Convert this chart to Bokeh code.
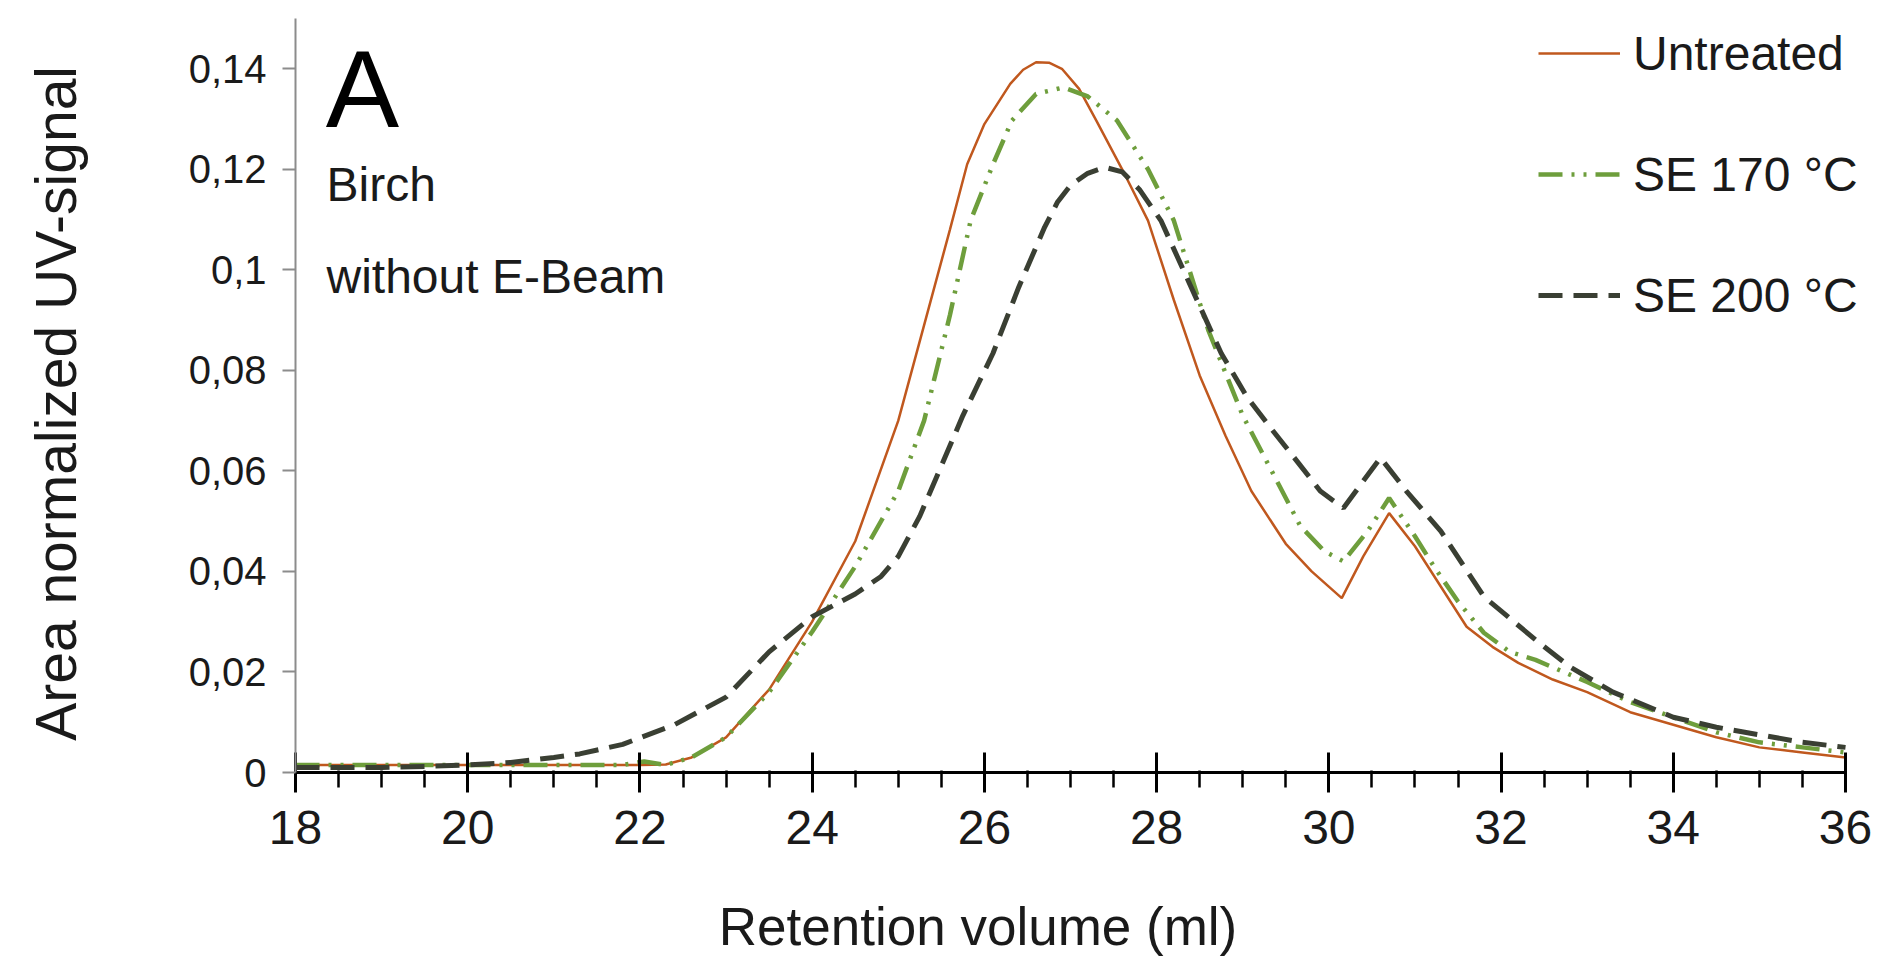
from bokeh.plotting import figure
from bokeh.models import Range1d, FixedTicker, Legend, LegendItem, Label
from bokeh.embed import file_html
from bokeh.resources import INLINE

# ---------------- data ----------------
x_untreated = [18, 19, 20, 21, 22, 22.3, 22.6, 23.0, 23.5, 24.0, 24.5, 25.0, 25.3, 25.6,
               25.8, 26.0, 26.3, 26.45, 26.6, 26.75, 26.9, 27.1, 27.3, 27.6, 27.9, 28.2,
               28.5, 28.8, 29.1, 29.5, 29.8, 30.15, 30.4, 30.7, 31.0, 31.3, 31.6, 31.9,
               32.2, 32.6, 33.0, 33.5, 34.0, 34.5, 35.0, 35.5, 36.0]
y_untreated = [0.0015, 0.0015, 0.0015, 0.0015, 0.0015, 0.0016, 0.003, 0.007, 0.0165, 0.030,
               0.046, 0.070, 0.089, 0.108, 0.121, 0.129, 0.137, 0.1398, 0.1413, 0.1412,
               0.140, 0.136, 0.1297, 0.120, 0.1098, 0.094, 0.079, 0.067, 0.056, 0.0455,
               0.040, 0.0347, 0.043, 0.0516, 0.045, 0.037, 0.029, 0.025, 0.0218, 0.0185,
               0.016, 0.012, 0.0095, 0.007, 0.005, 0.004, 0.003]

x_se170 = [18, 20, 21, 21.8, 22.05, 22.3, 22.6, 23.0, 23.5, 24.0, 24.5, 25.0, 25.3, 25.6,
           25.84, 26.1, 26.32, 26.6, 26.92, 27.2, 27.54, 27.9, 28.2, 28.6, 29.0, 29.29,
           29.67, 29.95, 30.17, 30.45, 30.7, 31.0, 31.22, 31.5, 31.8, 32.1, 32.4, 33.0,
           33.5, 34.0, 34.5, 35.0, 35.5, 36.0]
y_se170 = [0.0015, 0.0015, 0.0015, 0.0015, 0.0022, 0.0015, 0.003, 0.007, 0.016, 0.028,
           0.041, 0.056, 0.070, 0.091, 0.1098, 0.121, 0.1297, 0.135, 0.1363, 0.1345,
           0.1297, 0.120, 0.1098, 0.088, 0.071, 0.0615, 0.049, 0.044, 0.042, 0.048,
           0.0546, 0.047, 0.041, 0.034, 0.0278, 0.024, 0.0224, 0.018, 0.014, 0.011,
           0.008, 0.006, 0.005, 0.004]

x_se200 = [18, 19, 19.5, 20, 20.5, 21.0, 21.3, 21.8, 22.4, 23.0, 23.5, 24.0, 24.5, 24.8,
           25.0, 25.25, 25.5, 25.75, 26.1, 26.4, 26.7, 26.85, 27.0, 27.2, 27.4, 27.6,
           27.8, 28.05, 28.4, 28.75, 29.05, 29.35, 29.65, 29.9, 30.17, 30.4, 30.6, 30.9,
           31.3, 31.8, 32.4, 32.8, 33.3, 34.0, 34.5, 35.0, 35.5, 36.0]
y_se200 = [0.001, 0.001, 0.0012, 0.0015, 0.002, 0.003, 0.0037, 0.0056, 0.0095, 0.015,
           0.024, 0.031, 0.0355, 0.039, 0.043, 0.051, 0.061, 0.071, 0.0834, 0.0966,
           0.1085, 0.1135, 0.1168, 0.1192, 0.1204, 0.1195, 0.116, 0.1098, 0.0966, 0.0834,
           0.0747, 0.068, 0.0615, 0.056, 0.0526, 0.058, 0.0626, 0.056, 0.048, 0.035,
           0.0264, 0.021, 0.016, 0.011, 0.009, 0.0075, 0.006, 0.005]

series_names = ["Untreated", "SE 170 \u00b0C", "SE 200 \u00b0C"]
x_ticks = [18, 20, 22, 24, 26, 28, 30, 32, 34, 36]
y_ticks = [0, 0.02, 0.04, 0.06, 0.08, 0.1, 0.12, 0.14]
y_tick_labels = ["0", "0,02", "0,04", "0,06", "0,08", "0,1", "0,12", "0,14"]
x_title = "Retention volume (ml)"
y_title = "Area normalized  UV-signal"

FONT = "Liberation Sans"
TXT = "#1a1a1a"

# frame: x=18 at px 295, x=36 at px 1845 (86.11 px per ml); extended to the window edge
p = figure(width=1881, height=958, output_backend="svg", toolbar_location=None,
           x_range=Range1d(18, 36.418), y_range=Range1d(0, 0.15),
           min_border_left=295, min_border_right=0, min_border_top=18,
           min_border_bottom=185)
p.outline_line_color = None
p.xgrid.visible = False
p.ygrid.visible = False
p.background_fill_color = "white"
p.border_fill_color = "white"

# lines
r_u = p.line(x_untreated, y_untreated, line_color="#C0581E", line_width=2.5)
r_1 = p.line(x_se170, y_se170, line_color="#6E9E3C", line_width=4.5,
             line_dash="24 9 3 9 3 9")
r_2 = p.line(x_se200, y_se200, line_color="#3A3F33", line_width=5,
             line_dash="24 11")

# x axis
xa = p.xaxis[0]
xa.bounds = (18, 36)
xa.ticker = FixedTicker(ticks=x_ticks, minor_ticks=[18 + 0.5 * i for i in range(37)])
xa.axis_line_color = "black"
xa.axis_line_width = 3
xa.major_tick_line_color = "black"
xa.major_tick_line_width = 3
xa.major_tick_in = 20
xa.major_tick_out = 20
xa.minor_tick_line_color = "black"
xa.minor_tick_line_width = 2.5
xa.minor_tick_in = 2
xa.minor_tick_out = 15
xa.major_label_text_font = FONT
xa.major_label_text_font_size = "48px"
xa.major_label_text_color = TXT
xa.major_label_standoff = 18
# non-breaking spaces shift the centred title left, as in the reference
xa.axis_label = x_title + "\u00a0" * 15
xa.axis_label_text_font = FONT
xa.axis_label_text_font_size = "53px"
xa.axis_label_text_font_style = "normal"
xa.axis_label_text_color = TXT
xa.axis_label_standoff = 50

# y axis
ya = p.yaxis[0]
ya.bounds = (0, 0.15)
ya.ticker = FixedTicker(ticks=y_ticks, minor_ticks=[])
ya.major_label_overrides = {t: l for t, l in zip(y_ticks, y_tick_labels)}
ya.axis_line_color = "#8c8c8c"
ya.axis_line_width = 2
ya.major_tick_line_color = "#8c8c8c"
ya.major_tick_line_width = 2
ya.major_tick_in = 0
ya.major_tick_out = 13
ya.minor_tick_line_color = None
ya.major_label_text_font = FONT
ya.major_label_text_font_size = "40px"
ya.major_label_text_color = TXT
ya.major_label_standoff = 16
ya.axis_label = y_title
ya.axis_label_text_font = FONT
ya.axis_label_text_font_size = "57px"
ya.axis_label_text_font_style = "normal"
ya.axis_label_text_color = TXT
ya.axis_label_standoff = 98

# annotations
p.add_layout(Label(x=18.35, y=0.136, text="A", text_font=FONT, text_font_size="110px",
                   text_color="black", text_baseline="alphabetic"))
p.add_layout(Label(x=18.36, y=0.117, text="Birch", text_font=FONT, text_font_size="48px",
                   text_color=TXT, text_baseline="alphabetic"))
p.add_layout(Label(x=18.36, y=0.0987, text="without E-Beam", text_font=FONT,
                   text_font_size="48px", text_color=TXT, text_baseline="alphabetic"))

legend = Legend(items=[LegendItem(label=series_names[0], renderers=[r_u]),
                       LegendItem(label=series_names[1], renderers=[r_1]),
                       LegendItem(label=series_names[2], renderers=[r_2])],
                location=(1243, 449), orientation="vertical",
                label_text_font=FONT, label_text_font_size="48px",
                label_text_color=TXT,
                glyph_width=82, glyph_height=56, label_height=56, label_standoff=13,
                spacing=65, padding=0, margin=0,
                border_line_color=None, background_fill_alpha=0)
p.add_layout(legend)

open("out.html", "w").write(file_html(p, INLINE))
